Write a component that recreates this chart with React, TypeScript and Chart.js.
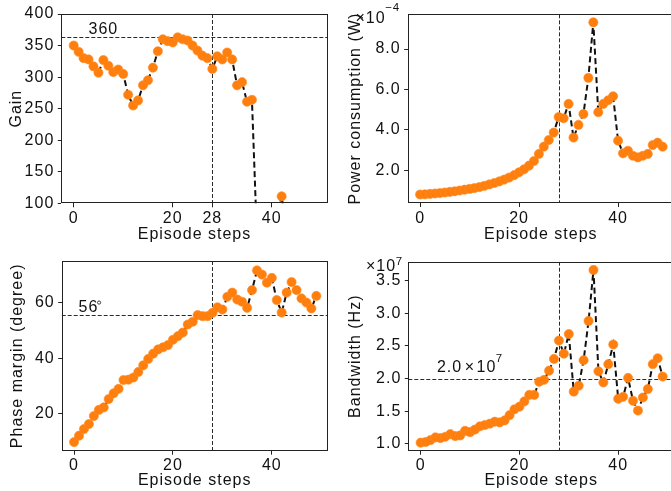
import React, { useEffect, useRef } from 'react';
import { Chart, registerables } from 'chart.js';

Chart.register(...registerables);

const FONT = '"Liberation Sans", Arial, Helvetica, sans-serif';
const FS = 16;
const LS = '1px';

// ---------------- data ----------------
const episodeSteps = [
  0, 1, 2, 3, 4, 5, 6, 7, 8, 9,
  10, 11, 12, 13, 14, 15, 16, 17, 18, 19,
  20, 21, 22, 23, 24, 25, 26, 27, 28, 29,
  30, 31, 32, 33, 34, 35, 36, 37, 38, 39,
  40, 41, 42, 43, 44, 45, 46, 47, 48, 49,
];

const gain = [
  350, 340, 330, 328, 317, 307, 327, 318, 308, 312,
  305, 272, 255, 263, 287, 295, 315, 341, 360, 357,
  355, 363, 360, 358, 350, 342, 334, 330, 313, 333,
  328, 339, 328, 287, 292, 261, 264, 48, 25, 40,
  62, 80, 111, 55, 35, 42, 60, 30, 45, 38,
];

// power consumption in units of 1e-4 W
const powerE4 = [
  0.79, 0.80, 0.82, 0.84, 0.86, 0.89, 0.92, 0.95, 0.99, 1.03,
  1.07, 1.11, 1.16, 1.22, 1.29, 1.36, 1.44, 1.53, 1.63, 1.75,
  1.89, 2.04, 2.22, 2.45, 2.80, 3.16, 3.49, 3.86, 4.63, 4.57,
  5.28, 3.61, 4.24, 4.78, 6.57, 9.32, 4.87, 5.28, 5.46, 5.66,
  3.46, 2.83, 2.96, 2.71, 2.63, 2.71, 2.80, 3.24, 3.36, 3.16,
];

const phaseMargin = [
  9.8, 12.1, 14.5, 16.3, 19.2, 21.4, 22.3, 25.3, 27.4, 29.0,
  32.2, 32.3, 33.1, 35.1, 37.5, 39.8, 41.7, 43.2, 44.0, 44.8,
  46.7, 48.0, 49.3, 52.2, 53.2, 55.6, 55.2, 55.2, 56.4, 58.4,
  57.6, 62.2, 63.7, 61.2, 60.4, 58.2, 64.6, 71.7, 70.2, 67.3,
  69.0, 61.0, 56.5, 63.7, 67.5, 64.6, 61.6, 60.1, 58.0, 62.5,
];

// bandwidth in units of 1e7 Hz
const bandwidthE7 = [
  1.02, 1.03, 1.06, 1.10, 1.09, 1.11, 1.15, 1.12, 1.13, 1.20,
  1.18, 1.22, 1.27, 1.29, 1.31, 1.34, 1.33, 1.36, 1.44, 1.53,
  1.57, 1.65, 1.75, 1.75, 1.95, 1.98, 2.12, 2.30, 2.58, 2.38,
  2.68, 1.80, 1.89, 2.28, 2.88, 3.66, 2.11, 1.94, 2.22, 2.52,
  1.69, 1.72, 2.01, 1.66, 1.51, 1.71, 1.84, 2.22, 2.31, 2.03,
];

const gainXTicks = [0, 20, 28, 40];
const stdXTicks = [0, 20, 40];
const gainYTicks = [100, 150, 200, 250, 300, 350, 400];
const powerYTicks = [2, 4, 6, 8];
const phaseYTicks = [20, 40, 60];
const bandwidthYTicks = [1.0, 1.5, 2.0, 2.5, 3.0, 3.5];

const markerStep = 28;
const gainRef = 364;
const gainRefLabel = '360';
const phaseRef = 55.6;
const phaseRefLabel = '56';
const bandwidthRef = 2.0;
const bandwidthRefLabel = '2.0';

// ---------------- panels ----------------
type Panel = {
  key: string;
  left: number; top: number; w: number; h: number;
  area: { l: number; r: number; t: number; b: number };
  values: number[];
  yMin: number; yMax: number;
  yTicks: number[]; xTicks: number[];
  fmt: (v: number) => string;
  yTitle: string; yTitlePad: number; xTitlePad: number; xTickPad: number;
  hRef?: number;
  decorate?: (chart: any) => void;
};

const TXT = '#111';

function drawTimesTen(ctx: CanvasRenderingContext2D, x: number, sup: string, baseY: number, supY: number, gap: number) {
  ctx.font = `${FS}px ${FONT}`;
  ctx.textAlign = 'left';
  ctx.textBaseline = 'alphabetic';
  ctx.fillStyle = TXT;
  ctx.fillText('×', x, baseY);
  const wx = ctx.measureText('×').width;
  ctx.fillText('10', x + wx + gap, baseY);
  const w10 = ctx.measureText('10').width;
  ctx.font = `11.5px ${FONT}`;
  ctx.fillText(sup, x + wx + gap + w10 - 0.5, supY);
}

const panels: Panel[] = [
  {
    key: 'gain', left: 0, top: 0, w: 335, h: 245,
    area: { l: 61.3, r: 327.7, t: 14, b: 203.3 },
    values: gain, yMin: 100, yMax: 400,
    yTicks: gainYTicks, xTicks: gainXTicks,
    fmt: (v) => String(v),
    yTitle: 'Gain', yTitlePad: 7.4, xTitlePad: 0.4, xTickPad: 1.6,
    hRef: gainRef,
    decorate: (chart) => {
      const { ctx, scales: { x, y } } = chart;
      ctx.font = `${FS}px ${FONT}`;
      ctx.fillStyle = TXT;
      ctx.textAlign = 'left';
      ctx.textBaseline = 'alphabetic';
      ctx.fillText(gainRefLabel, x.getPixelForValue(3), y.getPixelForValue(gainRef) - 3);
    },
  },
  {
    key: 'power', left: 335, top: 0, w: 345, h: 245,
    area: { l: 72.7, r: 339, t: 14.3, b: 203 },
    values: powerE4, yMin: 0.37, yMax: 9.72,
    yTicks: powerYTicks, xTicks: stdXTicks,
    fmt: (v) => v.toFixed(1),
    yTitle: 'Power consumption (W)', yTitlePad: 10.9, xTitlePad: 0.4, xTickPad: 1.6,
    decorate: (chart) => {
      drawTimesTen(chart.ctx, 20.5, '−4', 23, 10.5, 0);
    },
  },
  {
    key: 'phase', left: 0, top: 245, w: 335, h: 246,
    area: { l: 61.7, r: 327.7, t: 16, b: 205.7 },
    values: phaseMargin, yMin: 6.7, yMax: 75.1,
    yTicks: phaseYTicks, xTicks: stdXTicks,
    fmt: (v) => String(v),
    yTitle: 'Phase margin (degree)', yTitlePad: 7.9, xTitlePad: 1.1, xTickPad: 1.0,
    hRef: phaseRef,
    decorate: (chart) => {
      const { ctx, scales: { x, y } } = chart;
      ctx.font = `${FS}px ${FONT}`;
      ctx.fillStyle = TXT;
      ctx.textAlign = 'left';
      ctx.textBaseline = 'alphabetic';
      const px = x.getPixelForValue(0.9);
      const py = y.getPixelForValue(phaseRef) - 3.5;
      ctx.fillText(phaseRefLabel, px, py);
      const w = ctx.measureText(phaseRefLabel).width;
      ctx.beginPath();
      ctx.strokeStyle = TXT;
      ctx.lineWidth = 0.8;
      ctx.setLineDash([]);
      ctx.arc(px + w + 0.8, py - 9, 1.6, 0, Math.PI * 2);
      ctx.stroke();
    },
  },
  {
    key: 'bandwidth', left: 335, top: 245, w: 345, h: 246,
    area: { l: 73.3, r: 339, t: 16.7, b: 205.7 },
    values: bandwidthE7, yMin: 0.897, yMax: 3.786,
    yTicks: bandwidthYTicks, xTicks: stdXTicks,
    fmt: (v) => v.toFixed(1),
    yTitle: 'Bandwidth (Hz)', yTitlePad: 11.4, xTitlePad: 1.1, xTickPad: 1.0,
    hRef: bandwidthRef,
    decorate: (chart) => {
      const { ctx, scales: { x, y } } = chart;
      ctx.font = `${FS}px ${FONT}`;
      ctx.fillStyle = TXT;
      ctx.textAlign = 'left';
      ctx.textBaseline = 'alphabetic';
      const px = x.getPixelForValue(3.3);
      const py = y.getPixelForValue(bandwidthRef) - 7;
      ctx.fillText(bandwidthRefLabel, px, py);
      const w = ctx.measureText(bandwidthRefLabel).width;
      drawTimesTen(ctx, px + w + 2.5, '7', py, py - 9.5, 1.5);
      drawTimesTen(ctx, 31, '7', 25.5, 19.5, 0);
    },
  },
];

function makeConfig(p: Panel): any {
  const deco = {
    id: 'deco-' + p.key,
    beforeUpdate(chart: any) { chart.ctx.letterSpacing = LS; },
    beforeDraw(chart: any) { chart.ctx.letterSpacing = LS; },
    beforeDatasetsDraw(chart: any) {
      const { ctx, chartArea: a, scales: { x, y } } = chart;
      ctx.save();
      ctx.beginPath();
      ctx.rect(a.left, a.top, a.right - a.left, a.bottom - a.top);
      ctx.clip();
      ctx.strokeStyle = '#2a2a2a';
      ctx.lineWidth = 1;
      ctx.setLineDash([4, 2]);
      const vx = Math.round(x.getPixelForValue(markerStep)) + 0.5;
      ctx.beginPath();
      ctx.moveTo(vx, a.top);
      ctx.lineTo(vx, a.bottom);
      ctx.stroke();
      if (p.hRef !== undefined) {
        const hy = Math.round(y.getPixelForValue(p.hRef)) + 0.5;
        ctx.beginPath();
        ctx.moveTo(a.left, hy);
        ctx.lineTo(a.right, hy);
        ctx.stroke();
      }
      ctx.restore();
    },
    afterDatasetsDraw(chart: any) {
      const { ctx, chartArea: a } = chart;
      ctx.save();
      ctx.strokeStyle = '#222';
      ctx.lineWidth = 1;
      ctx.setLineDash([]);
      const l = Math.round(a.left) + 0.5;
      const t = Math.round(a.top) + 0.5;
      const r = Math.round(a.right) - 0.5;
      const b = Math.round(a.bottom) - 0.5;
      ctx.strokeRect(l, t, r - l, b - t);
      ctx.restore();
    },
    afterDraw(chart: any) {
      const ctx = chart.ctx;
      ctx.save();
      ctx.letterSpacing = LS;
      p.decorate && p.decorate(chart);
      ctx.restore();
    },
  };

  const font = { family: FONT, size: FS, lineHeight: 1.2 };

  return {
    type: 'line',
    data: {
      datasets: [
        {
          data: episodeSteps.map((s, i) => ({ x: s, y: p.values[i] })),
          borderColor: '#111',
          borderWidth: 2,
          borderDash: [6, 3.5],
          pointRadius: 4.6,
          pointBackgroundColor: '#ff7f0e',
          pointBorderColor: '#ff8a22',
          pointBorderWidth: 0.6,
          pointHoverRadius: 4.6,
          tension: 0,
          fill: false,
          clip: 0,
        },
      ],
    },
    options: {
      animation: false,
      responsive: false,
      events: [],
      layout: { padding: { left: 0, top: p.area.t, right: p.w - p.area.r, bottom: 0 } },
      plugins: { legend: { display: false }, tooltip: { enabled: false } },
      scales: {
        x: {
          type: 'linear',
          min: -2.5,
          max: 51.3,
          afterBuildTicks: (s: any) => { s.ticks = p.xTicks.map((v) => ({ value: v })); },
          afterFit: (s: any) => { s.height = p.h - p.area.b; },
          grid: { display: true, drawOnChartArea: false, drawTicks: true, tickLength: 4, color: '#222', lineWidth: 1 },
          border: { display: false },
          ticks: {
            color: TXT, padding: p.xTickPad, maxRotation: 0, autoSkip: false,
            font,
            callback: (v: any) => String(v),
          },
          title: {
            display: true, text: 'Episode steps', color: TXT,
            font,
            padding: { top: 0, bottom: p.xTitlePad },
          },
        },
        y: {
          type: 'linear',
          min: p.yMin,
          max: p.yMax,
          afterBuildTicks: (s: any) => { s.ticks = p.yTicks.map((v) => ({ value: v })); },
          afterFit: (s: any) => { s.width = p.area.l; },
          grid: { display: true, drawOnChartArea: false, drawTicks: true, tickLength: 3.5, color: '#222', lineWidth: 1 },
          border: { display: false },
          ticks: {
            color: TXT, padding: 3.5, autoSkip: false,
            font,
            callback: (v: any) => p.fmt(Number(v)),
          },
          title: {
            display: true, text: p.yTitle, color: TXT,
            font,
            padding: { top: p.yTitlePad, bottom: 0 },
          },
        },
      },
    },
    plugins: [deco],
  };
}

function PanelChart({ p }: { p: Panel }) {
  const ref = useRef<HTMLCanvasElement | null>(null);
  useEffect(() => {
    if (!ref.current) return;
    const chart = new Chart(ref.current, makeConfig(p));
    return () => chart.destroy();
  }, [p]);
  return (
    <canvas
      ref={ref}
      width={p.w}
      height={p.h}
      style={{ position: 'absolute', left: p.left, top: p.top, width: p.w + 'px', height: p.h + 'px' }}
    />
  );
}

export default function App() {
  return (
    <div
      style={{
        position: 'fixed', left: 0, top: 0, width: 671, height: 491,
        overflow: 'hidden', background: '#fff',
      }}
    >
      {panels.map((p) => (
        <PanelChart key={p.key} p={p} />
      ))}
    </div>
  );
}
